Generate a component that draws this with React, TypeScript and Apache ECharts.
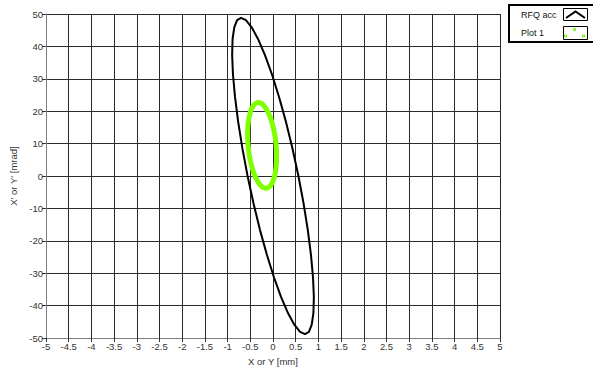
import React, { useEffect, useRef } from "react";
import * as echarts from "echarts";

// X axis ticks (mm) and Y axis ticks (mrad)
const xTicks = [-5, 5, 0.5];
const yTicks = [-50, 50, 10];

// "RFQ acc" acceptance ellipse
const rfqX = [0.900, 0.882, 0.837, 0.767, 0.674, 0.560, 0.429, 0.286, 0.133, -0.024, -0.179, -0.330, -0.470, -0.596, -0.704, -0.791, -0.853, -0.890, -0.900, -0.882, -0.837, -0.767, -0.674, -0.560, -0.429, -0.286, -0.133, 0.024, 0.179, 0.330, 0.470, 0.596, 0.704, 0.791, 0.853, 0.890, 0.900];
const rfqY = [-37.4, -31.4, -24.4, -16.7, -8.5, 0, 8.5, 16.7, 24.4, 31.4, 37.4, 42.3, 45.9, 48.1, 48.8, 48.1, 45.9, 42.3, 37.4, 31.4, 24.4, 16.7, 8.5, 0, -8.5, -16.7, -24.4, -31.4, -37.4, -42.3, -45.9, -48.1, -48.8, -48.1, -45.9, -42.3, -37.4];

// "Plot 1" beam ellipse
const plotX = [0.079, 0.069, 0.050, 0.022, -0.014, -0.056, -0.105, -0.157, -0.212, -0.268, -0.323, -0.375, -0.424, -0.466, -0.502, -0.530, -0.549, -0.559, -0.559, -0.549, -0.530, -0.502, -0.466, -0.424, -0.375, -0.323, -0.268, -0.212, -0.157, -0.105, -0.056, -0.014, 0.022, 0.050, 0.069, 0.079, 0.079];
const plotY = [7.15, 9.45, 11.75, 13.98, 16.08, 17.97, 19.60, 20.92, 21.90, 22.50, 22.70, 22.50, 21.90, 20.92, 19.60, 17.97, 16.08, 13.98, 11.75, 9.45, 7.15, 4.92, 2.82, 0.93, -0.70, -2.02, -3.00, -3.60, -3.80, -3.60, -3.00, -2.02, -0.70, 0.93, 2.82, 4.92, 7.15];

const legendNames = ["RFQ acc", "Plot 1"];
const xTitle = "X or Y [mm]";
const yTitle = "X' or Y' [mrad]";

const FONT = "Liberation Sans";

export default function App() {
  const ref = useRef<HTMLDivElement>(null);
  useEffect(() => {
    if (!ref.current) return;
    const chart = echarts.init(ref.current, null, { renderer: "svg" });
    const rfq = rfqX.map((x, i) => [x, rfqY[i]]);
    const plot = plotX.map((x, i) => [x, plotY[i]]);
    chart.setOption({
      animation: false,
      backgroundColor: "#ffffff",
      grid: { left: 46, right: 93, top: 14, bottom: 29, containLabel: false },
      xAxis: {
        type: "value",
        min: xTicks[0],
        max: xTicks[1],
        interval: xTicks[2],
        name: xTitle,
        nameLocation: "middle",
        nameGap: 18,
        nameTextStyle: { fontFamily: FONT, fontSize: 9.5, color: "#333" },
        axisLine: { show: true, onZero: false, lineStyle: { color: "#808080", width: 1 } },
        axisTick: { show: true, length: 4, lineStyle: { color: "#333" } },
        axisLabel: { interval: 0, hideOverlap: false, fontFamily: FONT, fontSize: 9.5, color: "#333", margin: 3 },
        splitLine: { show: true, lineStyle: { color: "#2a2a2a", width: 1 } },
      },
      yAxis: {
        type: "value",
        min: yTicks[0],
        max: yTicks[1],
        interval: yTicks[2],
        name: yTitle,
        nameLocation: "middle",
        nameGap: 27,
        nameRotate: 90,
        nameTextStyle: { fontFamily: FONT, fontSize: 9.5, color: "#333" },
        axisLine: { show: true, onZero: false, lineStyle: { color: "#808080", width: 1 } },
        axisTick: { show: true, length: 4, lineStyle: { color: "#333" } },
        axisLabel: { fontFamily: FONT, fontSize: 9.5, color: "#333", margin: 3 },
        splitLine: { show: true, lineStyle: { color: "#2a2a2a", width: 1 } },
      },
      series: [
        {
          name: legendNames[0],
          type: "line",
          data: rfq,
          showSymbol: false,
          smooth: false,
          lineStyle: { color: "#000000", width: 2 },
          z: 3,
        },
        {
          name: legendNames[1],
          type: "line",
          data: plot,
          showSymbol: false,
          smooth: false,
          lineStyle: { color: "#80ff00", width: 5 },
          z: 4,
        },
      ],
      graphic: [
        {
          type: "rect",
          shape: { x: 509, y: 5, width: 100, height: 37 },
          style: { fill: "#ffffff", stroke: "#000000", lineWidth: 2 },
        },
        {
          type: "text",
          x: 521,
          y: 15,
          style: { text: legendNames[0], fontFamily: FONT, fontSize: 9, fill: "#111", verticalAlign: "middle" },
        },
        {
          type: "text",
          x: 521,
          y: 33,
          style: { text: legendNames[1], fontFamily: FONT, fontSize: 9, fill: "#111", verticalAlign: "middle" },
        },
        {
          type: "rect",
          shape: { x: 563.5, y: 8.5, width: 24, height: 12 },
          style: { fill: "#ffffff", stroke: "#000000", lineWidth: 1 },
        },
        {
          type: "polyline",
          shape: { points: [[566, 18], [575.5, 11.5], [585, 18]] },
          style: { fill: "none", stroke: "#000000", lineWidth: 2 },
        },
        {
          type: "rect",
          shape: { x: 563.5, y: 26.5, width: 24, height: 13 },
          style: { fill: "#ffffff", stroke: "#000000", lineWidth: 1 },
        },
        { type: "rect", shape: { x: 564.5, y: 35, width: 2, height: 2 }, style: { fill: "none", stroke: "#66ee00", lineWidth: 1 } },
        { type: "rect", shape: { x: 573.5, y: 28.5, width: 2, height: 2 }, style: { fill: "none", stroke: "#66ee00", lineWidth: 1 } },
        { type: "rect", shape: { x: 582.5, y: 35, width: 2, height: 2 }, style: { fill: "none", stroke: "#66ee00", lineWidth: 1 } },
      ],
    });
    return () => chart.dispose();
  }, []);
  return <div ref={ref} style={{ width: 593, height: 371, position: "absolute", left: 0, top: 0 }} />;
}
